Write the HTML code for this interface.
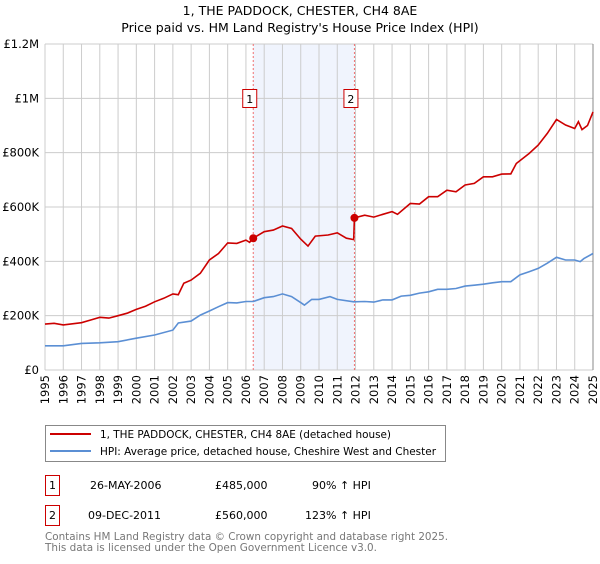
<!DOCTYPE html>
<html><head><meta charset="utf-8"><style>
body{margin:0;background:#fff;width:600px;height:560px;overflow:hidden;font-family:"DejaVu Sans","Liberation Sans",sans-serif;}
svg text{font-family:"DejaVu Sans","Liberation Sans",sans-serif;}
</style></head><body>
<svg id="chart" width="600" height="560" xmlns="http://www.w3.org/2000/svg">
<text x="300" y="15" text-anchor="middle" font-size="12.5" fill="#000">1, THE PADDOCK, CHESTER, CH4 8AE</text>
<text x="300" y="32" text-anchor="middle" font-size="12.5" fill="#000">Price paid vs. HM Land Registry's House Price Index (HPI)</text>
<g id="plot"></g>
<g>
<rect x="45.5" y="425.5" width="400" height="36" fill="#fff" stroke="#888"/>
<line x1="50" y1="434" x2="91" y2="434" stroke="#cc0000" stroke-width="2"/>
<text x="100" y="438" font-size="10.5" textLength="291" lengthAdjust="spacingAndGlyphs">1, THE PADDOCK, CHESTER, CH4 8AE (detached house)</text>
<line x1="50" y1="451" x2="91" y2="451" stroke="#5b8fd4" stroke-width="2"/>
<text x="100" y="455" font-size="10.5" textLength="336" lengthAdjust="spacingAndGlyphs">HPI: Average price, detached house, Cheshire West and Chester</text>
</g>
<g font-size="11">
<rect x="45.5" y="475.5" width="14" height="20" fill="#fff" stroke="#cc0000"/>
<text x="52.5" y="489" text-anchor="middle">1</text>
<text x="90" y="489">26-MAY-2006</text><text x="215" y="489">£485,000</text><text x="312" y="489">90% ↑ HPI</text>
<rect x="45.5" y="505.5" width="14" height="20" fill="#fff" stroke="#cc0000"/>
<text x="52.5" y="519" text-anchor="middle">2</text>
<text x="88" y="519">09-DEC-2011</text><text x="215" y="519">£560,000</text><text x="305" y="519">123% ↑ HPI</text>
</g>
<text x="45" y="540" font-size="10.5" fill="#777" textLength="403" lengthAdjust="spacingAndGlyphs">Contains HM Land Registry data © Crown copyright and database right 2025.</text>
<text x="45" y="551" font-size="10.5" fill="#777" textLength="332" lengthAdjust="spacingAndGlyphs">This data is licensed under the Open Government Licence v3.0.</text>
</svg>
<script>
const hpiYears=[1995,1996,1997,1998,1999,2000,2001,2002,2002.3,2003,2003.5,2004,2004.5,2005,2005.5,2006,2006.4,2007,2007.5,2008,2008.5,2009,2009.2,2009.6,2010,2010.6,2011,2011.9,2012.5,2013,2013.5,2014,2014.5,2015,2015.5,2016,2016.5,2017,2017.5,2018,2018.5,2019,2019.5,2020,2020.5,2021,2021.5,2022,2022.5,2023,2023.5,2024,2024.3,2024.5,2025];
const hpiValues=[89,89,98,100,104,117,129,147,173,180,202,217,233,248,247,252,252,266,270,280,270,248,239,260,260,270,260,251,252,250,258,258,272,275,283,288,297,297,300,309,312,316,321,325,325,350,362,374,393,415,405,405,399,410,429];
const priceYears=[1995,1995.5,1996,1996.5,1997,1997.5,1998,1998.5,1999,1999.5,2000,2000.5,2001,2001.5,2002,2002.3,2002.6,2003,2003.5,2004,2004.5,2005,2005.5,2006,2006.2,2006.4,2007,2007.5,2008,2008.5,2009,2009.4,2009.8,2010.5,2011,2011.5,2011.9,2011.94,2012.5,2013,2013.5,2014,2014.3,2015,2015.5,2016,2016.5,2017,2017.5,2018,2018.5,2019,2019.5,2020,2020.5,2020.8,2021.5,2022,2022.5,2023,2023.5,2024,2024.2,2024.4,2024.7,2025];
const priceValues=[169,172,166,170,174,184,194,191,200,209,223,235,251,264,280,277,319,331,356,405,429,468,466,478,470,485,509,515,530,521,482,456,493,497,505,485,480,560,570,563,573,583,573,613,611,638,638,662,656,681,687,711,711,721,722,760,797,828,871,922,902,889,914,885,900,950];
const sales=[{n:"1",t:2006.4,v:485},{n:"2",t:2011.94,v:560}];
const yTicks=[0,200,400,600,800,1000,1200];
const yTickLabels=["£0","£200K","£400K","£600K","£800K","£1M","£1.2M"];
const xTicks=[];for(let y=1995;y<=2025;y++)xTicks.push(y);

const X0=45,X1=593,Y0=370,Y1=44;
const sx=t=>X0+(t-1995)/30*(X1-X0);
const sy=v=>Y0-v/1200*(Y0-Y1);
const NS="http://www.w3.org/2000/svg";
const g=document.getElementById('plot');
function mk(tag,attrs){const e=document.createElementNS(NS,tag);for(const k in attrs)e.setAttribute(k,attrs[k]);g.appendChild(e);return e;}
let e=mk('rect',{x:X0,y:Y1,width:X1-X0,height:Y0-Y1,fill:'#fff'});


e=mk('rect',{x:sx(sales[0].t),y:Y1,width:sx(sales[1].t)-sx(sales[0].t),height:Y0-Y1,fill:'#f0f4fd'});


xTicks.forEach(t=>{
 const l=mk('line',{x1:sx(t),x2:sx(t),y1:Y1,y2:Y0,stroke:'#ccc','stroke-width':1});
 
 
 const x=sx(t)+4;
 const tx=mk('text',{x:x,y:375,'font-size':11.5,'text-anchor':'end',transform:`rotate(-90 ${x} 375)`});
 tx.textContent=t;
 
 
});
yTicks.forEach((v,i)=>{
 const l=mk('line',{x1:X0,x2:X1,y1:sy(v),y2:sy(v),stroke:'#ccc','stroke-width':1});
 
 
 const tx=mk('text',{x:39,y:sy(v)+4,'font-size':11.5,'text-anchor':'end'});
 tx.textContent=yTickLabels[i];
 
 
});
e=mk('line',{x1:X1,x2:X1,y1:Y1,y2:Y0,stroke:'#888','stroke-width':1});


sales.forEach(s=>{
 const l=mk('line',{x1:sx(s.t),x2:sx(s.t),y1:Y1,y2:Y0,stroke:'#f07070','stroke-width':1,'stroke-dasharray':'2,2'});
 
 
});
function path(xs,vs,col,name){
 const p=mk('path',{d:xs.map((t,i)=>(i?'L':'M')+sx(t).toFixed(1)+','+sy(vs[i]).toFixed(1)).join(''),fill:'none',stroke:col,'stroke-width':1.6});
 
 
}
path(hpiYears,hpiValues,'#5b8fd4','hpi-line');
path(priceYears,priceValues,'#cc0000','price-line');
sales.forEach(s=>{
 const c=mk('circle',{cx:sx(s.t),cy:sy(s.v),r:4,fill:'#cc0000'});
 
 
 const b=mk('rect',{x:sx(s.t)-10.5,y:89.5,width:14,height:18,fill:'#fff',stroke:'#cc0000'});
 
 
 const t=mk('text',{x:sx(s.t)-3.5,y:103,'font-size':11,'text-anchor':'middle'});
 t.textContent=s.n;
 
 
});
</script>
</body></html>
